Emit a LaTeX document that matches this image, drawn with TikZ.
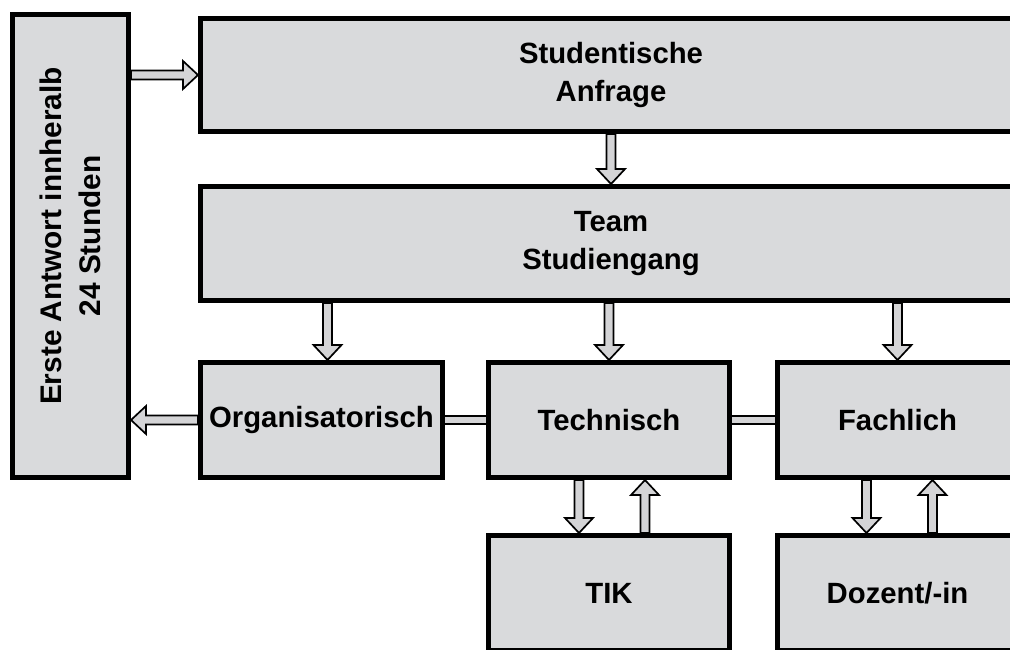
\documentclass[tikz,border=0pt]{standalone}
\usepackage{fontspec}
\setmainfont{Liberation Sans}
\usetikzlibrary{calc}
\definecolor{boxgray}{RGB}{217,218,220}
\definecolor{arrgray}{RGB}{212,212,214}
\tikzset{
  box/.style={draw=black, fill=boxgray, line width=5pt, inner sep=0pt, anchor=north west,
    font=\bfseries\fontsize{29.3}{38.5}\selectfont, align=center},
  arrowline/.style={fill=arrgray, draw=black, line width=1.7pt, line join=miter},
  dblline/.style={double=arrgray, double distance=5.5pt, line width=1.8pt}
}
\newcommand\hollowarrow[2]{%
 \filldraw[arrowline] let \p1=(#1), \p2=(#2), \n1={atan2(\y2-\y1,\x2-\x1)},
   \n2={veclen(\x2-\x1,\y2-\y1)-15} in
 ($(\p1)+(\n1+90:4.5pt)$) -- ($(\p1)+(\n1:\n2)+(\n1+90:4.5pt)$)
 -- ($(\p1)+(\n1:\n2)+(\n1+90:14pt)$) -- (\p2)
 -- ($(\p1)+(\n1:\n2)+(\n1-90:14pt)$) -- ($(\p1)+(\n1:\n2)+(\n1-90:4.5pt)$)
 -- ($(\p1)+(\n1-90:4.5pt)$) -- cycle;}
\begin{document}
\begin{tikzpicture}[x=1pt,y=-1pt]
\useasboundingbox (0,0) rectangle (1010,649);
\clip (0,0) rectangle (1010,649);
% boxes
\node[box, minimum width=116pt, minimum height=463pt] (L) at (10,12) {};
\node[font=\bfseries\fontsize{29.8}{38.5}\selectfont, align=center, rotate=90] (Ltext) at (70.5,236) {Erste Antwort innheralb\\24 Stunden};
\node[box, minimum width=821pt, minimum height=113pt] (SA) at (198,16) {Studentische\\Anfrage};
\node[box, minimum width=821pt, minimum height=114pt] (TS) at (198,184) {Team\\Studiengang};
\node[box, minimum width=242pt, minimum height=115pt] (O) at (198,360) {Organisatorisch};
\node[box, minimum width=241pt, minimum height=115pt] (T) at (486,360) {Technisch};
\node[box, minimum width=240pt, minimum height=115pt] (F) at (775,360) {Fachlich};
\node[box, minimum width=241pt, minimum height=115pt] (TIK) at (486,533) {TIK};
\node[box, minimum width=240pt, minimum height=115pt] (D) at (775,533) {Dozent/-in};
% connectors
\hollowarrow{SA.west -| L.east}{SA.west}
\hollowarrow{O.west}{O.west -| L.east}
\hollowarrow{SA.south}{SA.south |- TS.north}
\hollowarrow{$(O.north |- TS.south)+(6,0)$}{$(O.north)+(6,0)$}
\hollowarrow{T.north |- TS.south}{T.north}
\hollowarrow{F.north |- TS.south}{F.north}
\hollowarrow{$(T.south)+(-30,0)$}{$(TIK.north)+(-30,0)$}
\hollowarrow{$(TIK.north)+(36,0)$}{$(T.south)+(36,0)$}
\hollowarrow{$(F.south)+(-31,0)$}{$(D.north)+(-31,0)$}
\hollowarrow{$(D.north)+(35,0)$}{$(F.south)+(35,0)$}
\draw[dblline] (O.east) -- (T.west);
\draw[dblline] (T.east) -- (F.west);
\end{tikzpicture}
\end{document}
